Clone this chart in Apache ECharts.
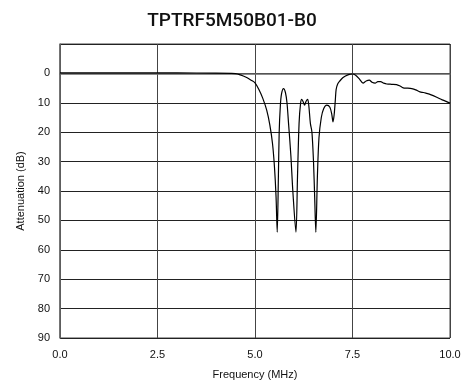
<!DOCTYPE html>
<html><head><meta charset="utf-8">
<script src="https://cdn.jsdelivr.net/npm/echarts@6/dist/echarts.min.js"></script>
<style>html,body{margin:0;padding:0;background:#fff}#c{width:464px;height:385px}</style>
</head><body><div id="c"></div>
<script>
const titleText = "TPTRF5M50B01-B0";
const freq = [0,1,2,3,4,4.4,4.5,4.6,4.7,4.8,4.9,5.0,5.1,5.2,5.3,5.38,5.45,5.5,5.54,5.57,5.6,5.62,5.65,5.68,5.73,5.78,5.82,5.86,5.92,5.97,6.05,6.09,6.13,6.17,6.2,6.24,6.27,6.31,6.35,6.38,6.42,6.46,6.5,6.53,6.56,6.6,6.64,6.7,6.76,6.84,6.92,6.97,7.0,7.03,7.06,7.08,7.12,7.18,7.25,7.32,7.4,7.5,7.58,7.67,7.77,7.85,7.93,8.0,8.08,8.15,8.22,8.3,8.38,8.5,8.63,8.72,8.8,8.9,9.02,9.12,9.23,9.32,9.4,9.5,9.66,9.8,9.9,10];
const atten = [-0.2,-0.2,-0.2,-0.15,-0.1,0,0.1,0.4,0.9,1.5,2.3,3.2,5.5,8.5,12.5,17.5,24,32,42,54,35,20,11,7,5.2,6.5,10,17,28,40,54,35,17,10,8.8,9.8,10.8,9.5,8.8,11,17,20,30,42,54,35,22,15,12,10.8,11.5,14,16.5,14,9,5.5,3.6,2.5,1.5,0.9,0.4,0.2,0.6,1.8,3.3,2.6,2.3,3.0,3.3,2.8,2.8,3.3,3.6,3.7,3.8,4.3,4.9,5.0,5.2,5.6,6.3,6.5,6.8,7.2,8.1,9.0,9.5,10.1];
const xTicks = [0,2.5,5,7.5,10];
const yTicks = [0,10,20,30,40,50,60,70,80,90];

const chart = echarts.init(document.getElementById('c'), null, {renderer:'canvas'});
chart.setOption({
  animation:false,
  title:{text:titleText,left:'center',top:7,textStyle:{fontFamily:'Roboto',fontWeight:500,fontSize:19,color:'#111'}},
  grid:{left:60,right:14,top:44,bottom:45,show:true,borderColor:'#444',borderWidth:1},
  xAxis:{type:'value',min:0,max:10,interval:2.5,
    name:'Frequency (MHz)',nameLocation:'middle',nameGap:31,
    nameTextStyle:{fontFamily:'Liberation Sans',fontSize:11,color:'#111'},
    axisLine:{show:true,lineStyle:{color:'#666',width:1.5}},axisTick:{show:false},
    axisLabel:{fontFamily:'Liberation Sans',fontSize:11,color:'#111',margin:11,formatter:v=>v.toFixed(1)},
    splitLine:{show:true,lineStyle:{color:'#444',width:1}}},
  yAxis:{type:'value',inverse:true,min:-10,max:90,interval:10,
    name:'Attenuation (dB)',nameLocation:'middle',nameGap:33,nameRotate:90,
    nameTextStyle:{fontFamily:'Liberation Sans',fontSize:11,color:'#111'},
    axisLine:{show:true,lineStyle:{color:'#666',width:1.5}},axisTick:{show:false},
    axisLabel:{fontFamily:'Liberation Sans',fontSize:11,color:'#111',margin:10,formatter:v=>yTicks.includes(v)?String(v):''},
    splitLine:{show:true,lineStyle:{color:'#222',width:1}}},
  series:[{type:'line',data:freq.map((f,i)=>[f,atten[i]]),showSymbol:false,smooth:0.3,
    lineStyle:{color:'#000',width:1.2}}]
});
</script></body></html>
